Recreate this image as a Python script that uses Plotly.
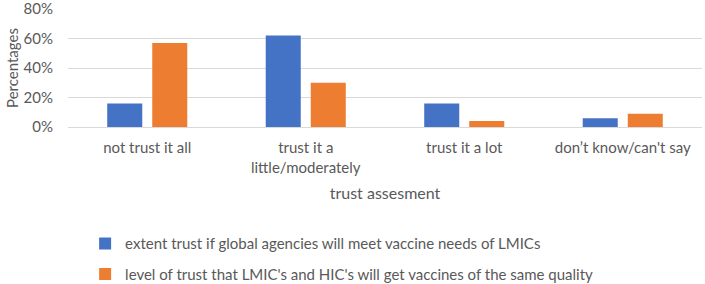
import plotly.graph_objects as go

categories = ["not trust it all", "trust it a<br>little/moderately", "trust it a lot", "don’t know/can't say"]
series_names = [
    "extent trust if global agencies will meet vaccine needs of LMICs",
    "level of trust that LMIC's and HIC's will get vaccines of the same quality",
]
blue_values = [16, 62, 16, 6]
orange_values = [57, 30, 4, 9]
y_ticks = [0, 20, 40, 60, 80]
y_tick_labels = ["0%", "20%", "40%", "60%", "80%"]

FONT = "Lato"
TXT = "#595959"

fig = go.Figure()
fig.add_trace(go.Bar(x=categories, y=blue_values, name=series_names[0],
                     marker=dict(color="#4472C4", line=dict(width=0)), legendgroup="a"))
fig.add_trace(go.Bar(x=categories, y=orange_values, name=series_names[1],
                     marker=dict(color="#ED7D31", line=dict(width=0)), legendgroup="b"))

fig.update_layout(
    width=705, height=284,
    margin=dict(l=68, r=3, t=9, b=157, autoexpand=False),
    paper_bgcolor="white", plot_bgcolor="white",
    font=dict(family=FONT, size=15, color=TXT),
    barmode="group", bargap=0.432, bargroupgap=0.222,
    showlegend=True,
    legend=dict(orientation="v", x=0.027, xref="paper", y=-0.85, yanchor="top",
                font=dict(family=FONT, size=15, color=TXT),
                traceorder="grouped", tracegroupgap=8, itemwidth=30,
                bgcolor="rgba(0,0,0,0)"),
)
fig.update_xaxes(
    showgrid=False, showline=True, linecolor="#d9d9d9", linewidth=1,
    ticks="", tickfont=dict(family=FONT, size=15, color=TXT),
    ticklabelstandoff=7, automargin=False,
    title=dict(text="trust assesment", font=dict(family=FONT, size=16, color=TXT), standoff=13),
)
fig.update_yaxes(
    range=[0, 80.05], tickvals=y_ticks, ticktext=y_tick_labels,
    showgrid=True, gridcolor="#d9d9d9", gridwidth=1, zeroline=False,
    tickfont=dict(family=FONT, size=15, color=TXT), ticks="",
    ticklabelstandoff=14, automargin=False, ticklabeloverflow="allow",
    title=dict(text="Percentages", font=dict(family=FONT, size=15, color=TXT), standoff=1),
)

fig.write_html("out.html")
